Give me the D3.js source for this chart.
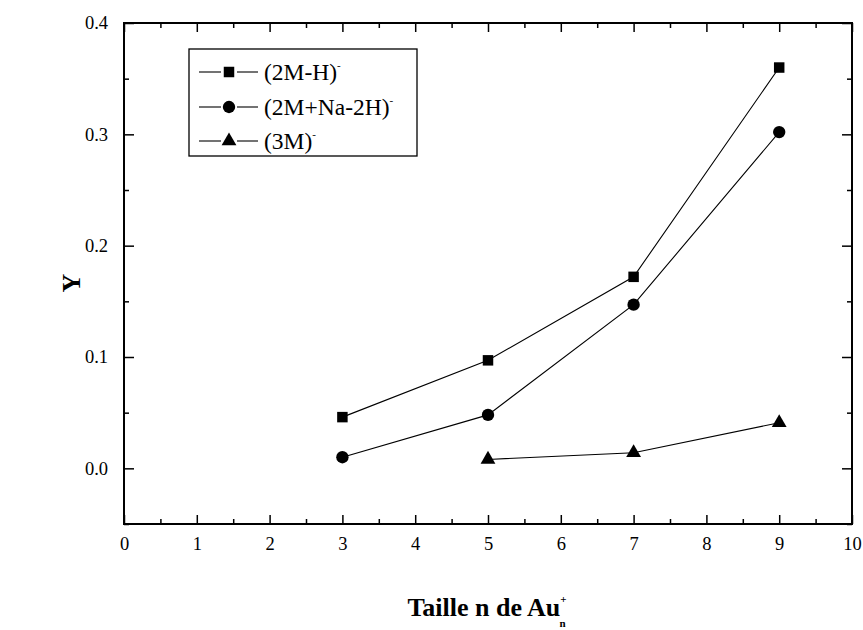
<!DOCTYPE html>
<html><head><meta charset="utf-8">
<script src="https://cdn.jsdelivr.net/npm/d3@7"></script>
<style>body{margin:0;background:#fff}svg{display:block}</style>
</head><body><svg id="c" width="863" height="630" font-family="'Liberation Serif', 'DejaVu Serif', serif"></svg>
<script>
const xCats = [3, 5, 7, 9];
const sqVals = [0.046, 0.097, 0.172, 0.360];
const ciVals = [0.010, 0.048, 0.147, 0.302];
const trX = [5, 7, 9];
const trVals = [0.008, 0.014, 0.041];
const xTicks = [0,1,2,3,4,5,6,7,8,9,10];
const yTicks = [0.0,0.1,0.2,0.3,0.4];
const seriesNames = ["(2M-H)", "(2M+Na-2H)", "(3M)"];
const FONT = "'Liberation Serif', 'DejaVu Serif', serif";

const svg = d3.select("#c");
const L=124, R=852, T=23, B=524;
const x = d3.scaleLinear().domain([0,10]).range([L,R]);
const y = d3.scaleLinear().domain([-0.05,0.4]).range([B,T]);

const g = svg.append("g");
g.append("rect").attr("x",L).attr("y",T).attr("width",R-L).attr("height",B-T)
 .attr("fill","none").attr("stroke","#000").attr("stroke-width",2);

const xMinor = d3.range(0.5,10,1);
const yMinor = [-0.05,0.05,0.15,0.25,0.35];
g.append("g").attr("transform",`translate(0,${B})`)
 .call(d3.axisBottom(x).tickValues(xTicks).tickFormat(d3.format("d")).tickSizeInner(-9).tickSizeOuter(0).tickPadding(13));
g.append("g").attr("transform",`translate(0,${B})`).call(d3.axisBottom(x).tickValues(xMinor).tickFormat("").tickSizeInner(-5).tickSizeOuter(0));
g.append("g").attr("transform",`translate(0,${T})`).call(d3.axisTop(x).tickValues(xTicks).tickFormat("").tickSizeInner(-9).tickSizeOuter(0));
g.append("g").attr("transform",`translate(0,${T})`).call(d3.axisTop(x).tickValues(xMinor).tickFormat("").tickSizeInner(-5).tickSizeOuter(0));
g.append("g").attr("transform",`translate(${L},0)`)
 .call(d3.axisLeft(y).tickValues(yTicks).tickFormat(d3.format(".1f")).tickSizeInner(-10).tickSizeOuter(0).tickPadding(16));
g.append("g").attr("transform",`translate(${L},0)`).call(d3.axisLeft(y).tickValues(yMinor).tickFormat("").tickSizeInner(-5).tickSizeOuter(0));
g.append("g").attr("transform",`translate(${R},0)`).call(d3.axisRight(y).tickValues(yTicks).tickFormat("").tickSizeInner(-10).tickSizeOuter(0));
g.append("g").attr("transform",`translate(${R},0)`).call(d3.axisRight(y).tickValues(yMinor).tickFormat("").tickSizeInner(-5).tickSizeOuter(0));
g.selectAll(".domain").remove();
g.selectAll(".tick line").attr("stroke","#000").attr("stroke-width",1.5);
g.selectAll("g").attr("font-family",FONT).attr("font-size",18.5);
g.selectAll(".tick text").attr("fill","#000");

const line = d3.line().x(d=>x(d[0])).y(d=>y(d[1]));
const sqSym = d3.symbol().type(d3.symbolSquare).size(110);
const ciSym = d3.symbol().type(d3.symbolCircle).size(120);
const trSym = d3.symbol().type(d3.symbolTriangle).size(95);

const series = [
 {pts: xCats.map((v,i)=>[v,sqVals[i]]), sym: sqSym},
 {pts: xCats.map((v,i)=>[v,ciVals[i]]), sym: ciSym},
 {pts: trX.map((v,i)=>[v,trVals[i]]), sym: trSym}
];
series.forEach(s=>{
 svg.append("path").attr("d",line(s.pts)).attr("fill","none").attr("stroke","#000").attr("stroke-width",1.1);
 svg.selectAll(null).data(s.pts).enter().append("path")
  .attr("d",s.sym).attr("transform",d=>`translate(${x(d[0])},${y(d[1])})`).attr("fill","#000");
});

const lg = svg.append("g");
lg.append("rect").attr("x",189).attr("y",49).attr("width",228).attr("height",107)
 .attr("fill","#fff").attr("stroke","#000").attr("stroke-width",1.3);
const rowsY = [72,107,141];
series.forEach((s,i)=>{
 const yy = rowsY[i];
 lg.append("line").attr("x1",199).attr("x2",221).attr("y1",yy).attr("y2",yy).attr("stroke","#000").attr("stroke-width",1.1);
 lg.append("line").attr("x1",237).attr("x2",258).attr("y1",yy).attr("y2",yy).attr("stroke","#000").attr("stroke-width",1.1);
 lg.append("path").attr("d",s.sym).attr("transform",`translate(229,${yy})`).attr("fill","#000");
 const t = lg.append("text").attr("x",264).attr("y",yy+8).attr("font-family",FONT).attr("font-size",23.5);
 t.append("tspan").text(seriesNames[i]);
 t.append("tspan").attr("dy",-11).attr("font-size",11).text("-");
});

const xt = svg.append("text").attr("x",487).attr("y",616).attr("text-anchor","middle")
 .attr("font-family",FONT).attr("font-size",26).attr("font-weight","bold");
xt.append("tspan").text("Taille n de Au");
xt.append("tspan").attr("dy",-13).attr("font-size",11).text("+");
xt.append("tspan").attr("dx",-7).attr("dy",24).attr("font-size",11).text("n");
svg.append("text").attr("transform","translate(80,283) rotate(-90)").attr("text-anchor","middle")
 .attr("font-family",FONT).attr("font-size",26).attr("font-weight","bold").text("Y");
</script></body></html>
